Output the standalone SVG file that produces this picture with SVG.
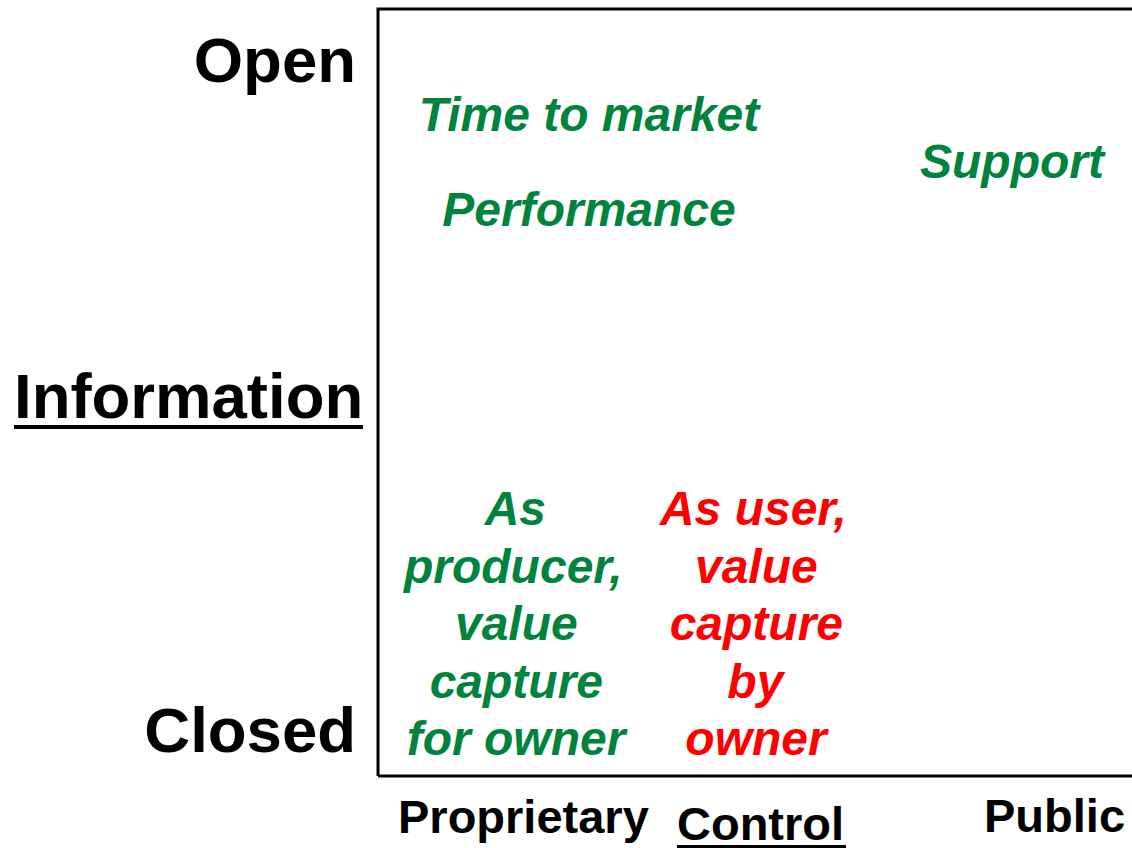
<svg xmlns="http://www.w3.org/2000/svg" width="1132" height="848" viewBox="0 0 1132 848">
<style>
.ax{font-family:"Liberation Sans",Arial,sans-serif;font-weight:bold;fill:#000}
.big{font-size:63.5px}
.mid{font-size:47px}
.it{font-family:"Liberation Sans",Arial,sans-serif;font-weight:bold;font-style:italic;font-size:48px}
.g{fill:#00843D}
.r{fill:#FF0000}
</style>
<rect width="1132" height="848" fill="#fff"/>
<g id="frame">
<path d="M378 776 V9 H1134 M378 776 H1134" fill="none" stroke="#000" stroke-width="3"/>
</g>
<g id="axis-y">
<text class="ax big" x="356" y="82" text-anchor="end">Open</text>
<text class="ax big" x="14" y="418">Information</text>
<rect x="14" y="425" width="349" height="4" fill="#000"/>
<text class="ax big" x="356" y="752" text-anchor="end">Closed</text>
</g>
<g id="axis-x">
<text class="ax mid" x="398" y="833">Proprietary</text>
<text class="ax mid" x="677" y="840">Control</text>
<rect x="677" y="845" width="169" height="3" fill="#000"/>
<text class="ax mid" x="984" y="832">Public</text>
</g>
<g id="labels">
<text class="it g" x="589" y="131" text-anchor="middle">Time to market</text>
<text class="it g" x="589" y="226" text-anchor="middle">Performance</text>
<text class="it g" x="1012" y="178" text-anchor="middle">Support</text>
</g>
<g id="producer">
<text class="it g" text-anchor="middle">
<tspan x="522" y="525">As</tspan>
<tspan x="520" y="583">producer,</tspan>
<tspan x="523" y="640">value</tspan>
<tspan x="523" y="698">capture</tspan>
<tspan x="516" y="755">for owner</tspan>
</text>
</g>
<g id="user">
<text class="it r" text-anchor="middle">
<tspan x="760" y="525">As user,</tspan>
<tspan x="763" y="583">value</tspan>
<tspan x="763" y="640">capture</tspan>
<tspan x="762" y="698">by</tspan>
<tspan x="756" y="755">owner</tspan>
</text>
</g>
</svg>
